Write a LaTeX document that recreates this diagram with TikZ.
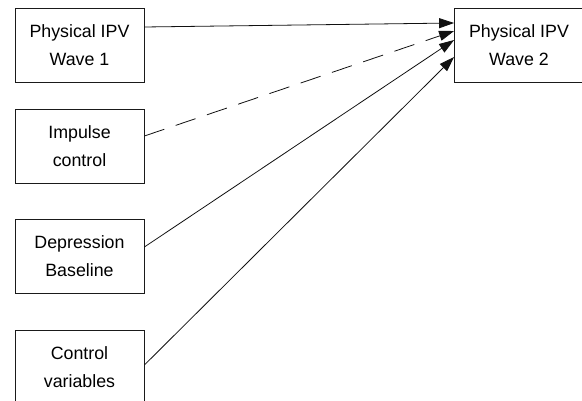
\documentclass[tikz,border=0pt]{standalone}
\usepackage{fontspec}
\setmainfont{Liberation Sans}
\usepackage{tikz}
\usetikzlibrary{arrows.meta,calc,positioning}
\definecolor{kutuCizgi}{HTML}{1A1A1A}
\definecolor{okRengi}{HTML}{111111}

\begin{document}
\begin{tikzpicture}[x=1pt,y=1pt, every node/.style={font=\fontsize{17.8}{28}\selectfont},
  kutu/.style={draw=kutuCizgi,line width=0.8pt,minimum width=129pt,minimum height=74pt,align=center,inner sep=0pt},
  ok/.style={draw=okRengi,line width=0.8pt,-{Triangle[length=15pt,width=10pt]}}]
\useasboundingbox (0,0) rectangle (582,-401);
\clip (0,0) rectangle (582,-401);
\node[kutu] (dalga1) at (79.5,-45) {Physical IPV\\Wave 1};
\node[kutu] (itki) at (79.5,-146.5) {Impulse\\control};
\node[kutu] (depresyon) at (79.5,-256.5) {Depression\\Baseline};
\node[kutu] (kontrol) at (79.5,-367) {Control\\variables};
\node[kutu] (dalga2) at (519,-45) {Physical IPV\\Wave 2};
\draw[ok] ([yshift=18pt]dalga1.east)--([yshift=22pt]dalga2.west);
\draw[ok,dash pattern=on 21pt off 12pt] ([yshift=10.5pt]itki.east)--([yshift=14pt]dalga2.west);
\draw[ok] ([yshift=9.5pt]depresyon.east)--([yshift=5pt]dalga2.west);
\draw[ok] ([yshift=2pt]kontrol.east)--([yshift=-12pt]dalga2.west);
\end{tikzpicture}
\end{document}
